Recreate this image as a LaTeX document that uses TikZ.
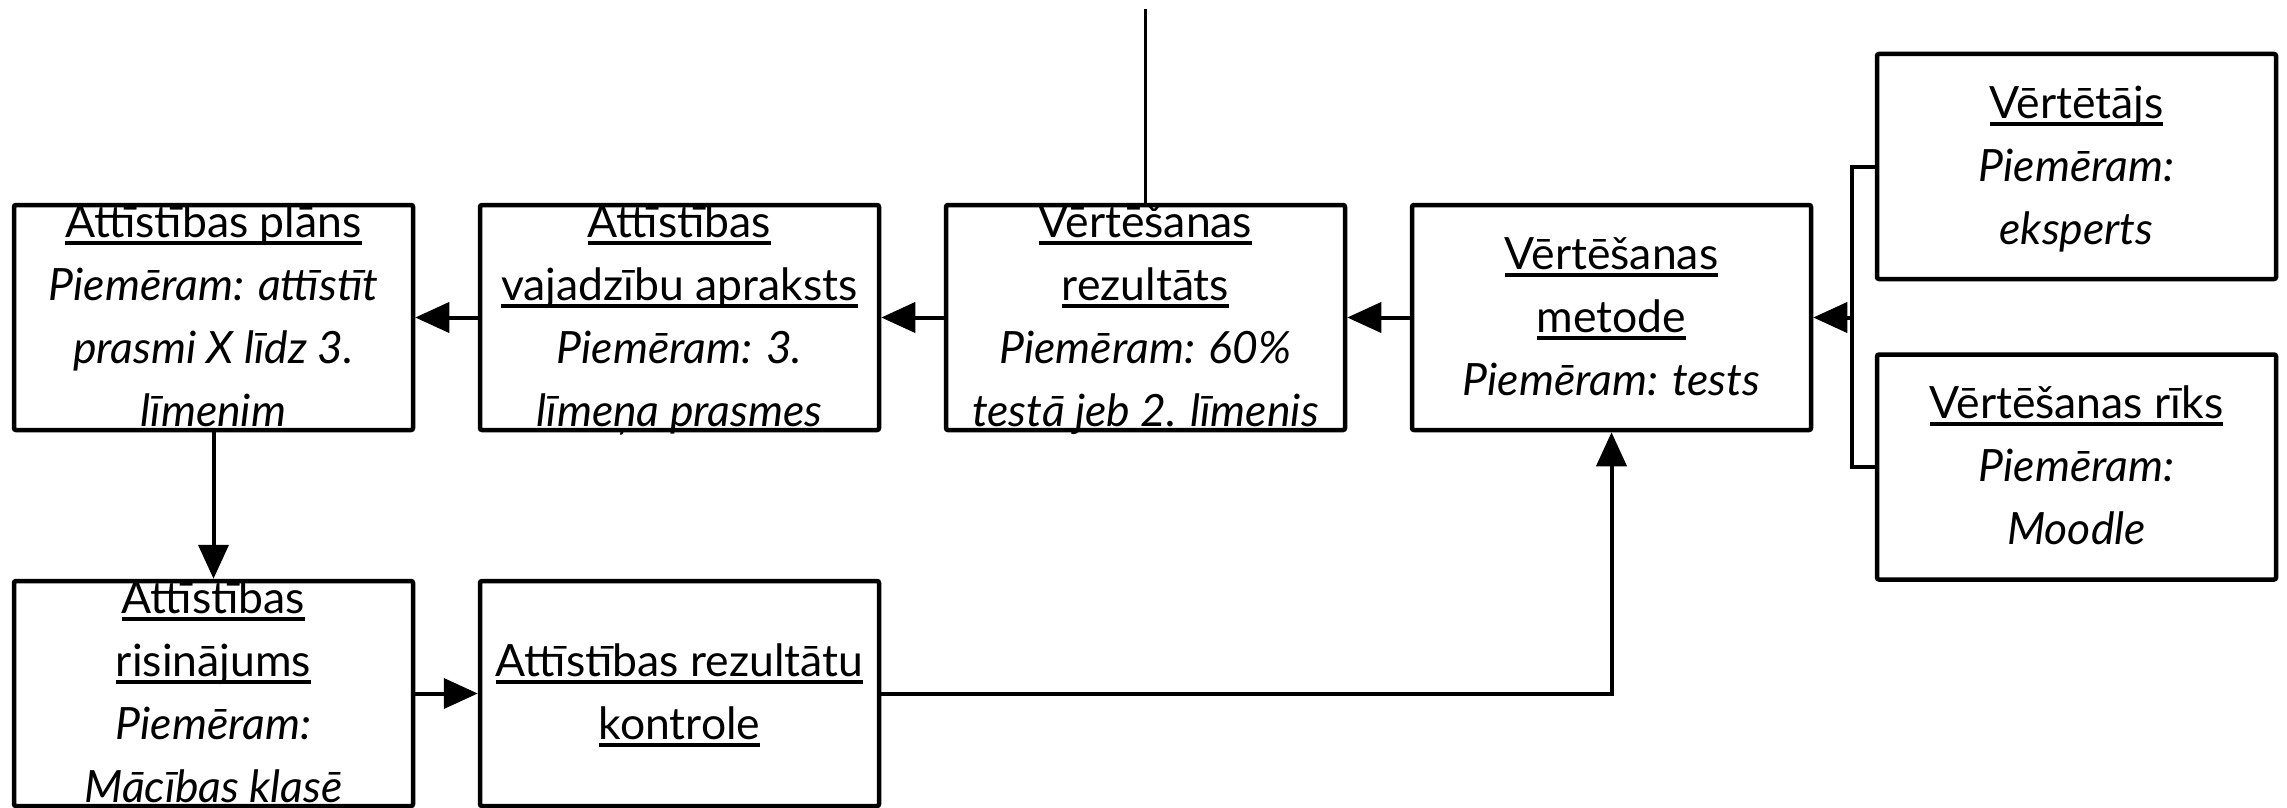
\documentclass[tikz,border=0pt]{standalone}
\usepackage{fontspec}
\setmainfont{Lato}
\usetikzlibrary{arrows.meta}
\newcommand\ulx[1]{\setbox0=\hbox{#1}\rlap{\rule[-7.5pt]{\wd0}{4pt}}\box0}
\newcommand\mys{\rule[-17pt]{0pt}{63pt}}
\newcommand\exl[1]{{\itshape #1}}
\begin{document}
\begin{tikzpicture}[x=1pt,y=-1pt,
  boxst/.style={draw=black,line width=4.5pt,rounded corners=2pt,rectangle,
    minimum width=399pt,minimum height=225pt,inner sep=0pt},
  txt/.style={align=center,inner sep=0pt,font=\fontsize{44.5}{63}\selectfont},
  conn/.style={draw=black,line width=4pt},
  arr/.style={conn,-{Triangle[length=34pt,width=30pt]}},
  topline/.style={draw=black,line width=3.5pt}]
\useasboundingbox (0,0) rectangle (2287,808);
\fill[white] (0,0) rectangle (2287,808);
% boxes
\node[boxst] (b1) at (213.5,317.5) {};
\node[boxst] (b2) at (679.5,317.5) {};
\node[boxst] (b3) at (1145.5,317.5) {};
\node[boxst] (b4) at (1611.5,317.5) {};
\node[boxst] (r1) at (2076.5,166.5) {};
\node[boxst] (r2) at (2076.5,467) {};
\node[boxst] (b5) at (213.5,693.5) {};
\node[boxst] (b6) at (679.5,693.5) {};
% texts
\node[txt] (t1) at (b1.center) {\mys\ulx{Attīstības plāns}\\\mys\exl{Piemēram: attīstīt}\\\mys\exl{prasmi X līdz 3.}\\\mys\exl{līmenim}};
\node[txt] (t2) at (b2.center) {\mys\ulx{Attīstības}\\\mys\ulx{vajadzību apraksts}\\\mys\exl{Piemēram: 3.}\\\mys\exl{līmeņa prasmes}};
\node[txt] (t3) at (b3.center) {\mys\ulx{Vērtēšanas}\\\mys\ulx{rezultāts}\\\mys\exl{Piemēram: 60\%}\\\mys\exl{testā jeb 2. līmenis}};
\node[txt] (t4) at (b4.center) {\mys\ulx{Vērtēšanas}\\\mys\ulx{metode}\\\mys\exl{Piemēram: tests}};
\node[txt] (t5) at (r1.center) {\mys\ulx{Vērtētājs}\\\mys\exl{Piemēram:}\\\mys\exl{eksperts}};
\node[txt] (t6) at (r2.center) {\mys\ulx{Vērtēšanas rīks}\\\mys\exl{Piemēram:}\\\mys\exl{Moodle}};
\node[txt] (t7) at (b5.center) {\mys\ulx{Attīstības}\\\mys\ulx{risinājums}\\\mys\exl{Piemēram:}\\\mys\exl{Mācības klasē}};
\node[txt] (t8) at (b6.center) {\mys\ulx{Attīstības rezultātu}\\\mys\ulx{kontrole}};
% connectors
\coordinate (top) at (1145.5,9);
\coordinate (jn) at (1852,317.5);
\draw[topline] (top) -- (b3.north);
\draw[arr] (b2.west) -- (b1.east);
\draw[arr] (b3.west) -- (b2.east);
\draw[arr] (b4.west) -- (b3.east);
\draw[conn] (r1.west) -| (jn) |- (r2.west);
\draw[arr] (jn) -- (b4.east);
\draw[arr] (b1.south) -- (b5.north);
\draw[arr] (b5.east) -- (b6.west);
\draw[arr] (b6.east) -| (b4.south);
\end{tikzpicture}
\end{document}
